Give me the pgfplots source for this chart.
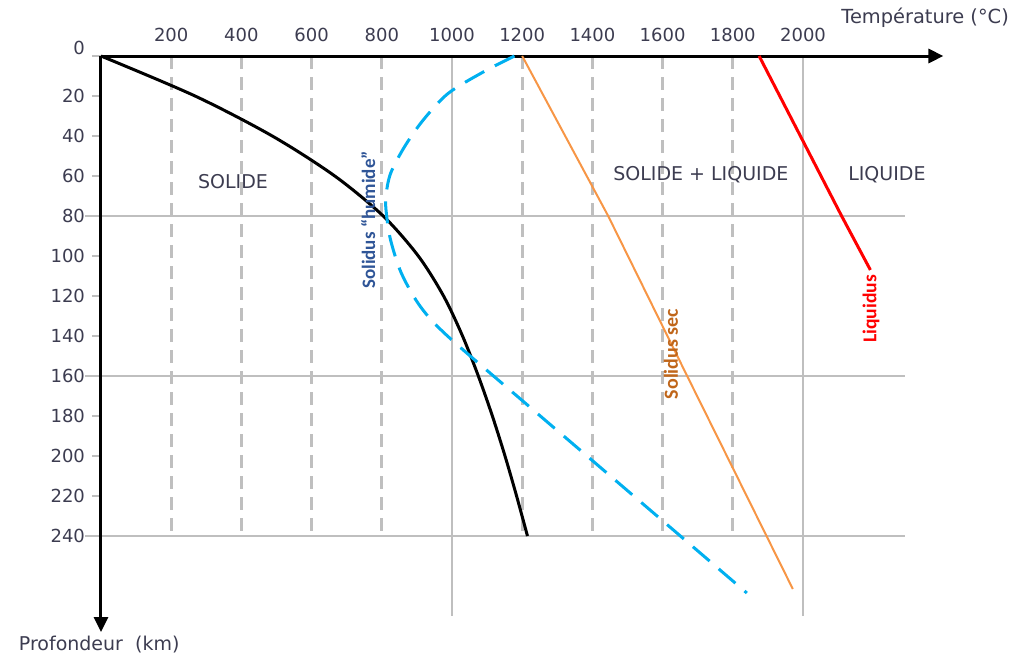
\documentclass[border=0pt]{standalone}
\usepackage{pgfplots}
\pgfplotsset{compat=1.18}
\usepackage{fontspec}
\setmainfont{DejaVu Sans}
\newfontfamily\calib{Carlito}
\usetikzlibrary{arrows.meta}
\definecolor{txt}{HTML}{3C3C50}
\definecolor{gridc}{HTML}{BFBFBF}
\definecolor{cyanb}{HTML}{00B0F0}
\definecolor{orng}{HTML}{F79646}
\definecolor{humid}{HTML}{2F5597}
\definecolor{secc}{HTML}{C0661A}
\begin{document}
\begin{tikzpicture}
\useasboundingbox (-50.5pt,-300.5pt) rectangle (458pt,28pt);
\begin{axis}[
 at={(0pt,0pt)}, anchor=origin,
 x=0.1755pt, y=1pt, y dir=reverse,
 xmin=0, xmax=2400, ymin=0, ymax=288,
 clip=false,
 axis line style={draw=none},
 xtick={200,400,...,2000},
 ytick={20,40,...,240},
 extra y ticks={0},
 extra y tick style={yticklabel style={yshift=4pt}, tick style={draw=none}},
 xtick style={draw=none},
 ytick style={draw=gridc, line width=0.8pt},
 ytick pos=left,
 xtick pos=right,
 xticklabel pos=right,
 tick align=outside, major tick length=4.5pt,
 ticklabel style={font=\fontsize{9}{10}\selectfont, text=txt},
 xticklabel style={yshift=-1pt},
 /pgf/number format/assume math mode=true,
 /pgf/number format/1000 sep={},
]
% grid lines
\addplot[gridc, line width=1.4pt, dash pattern=on 6.5pt off 4pt] coordinates {(200,0)(200,240)};
\addplot[gridc, line width=1.4pt, dash pattern=on 6.5pt off 4pt] coordinates {(400,0)(400,240)};
\addplot[gridc, line width=1.4pt, dash pattern=on 6.5pt off 4pt] coordinates {(600,0)(600,240)};
\addplot[gridc, line width=1.4pt, dash pattern=on 6.5pt off 4pt] coordinates {(800,0)(800,240)};
\addplot[gridc, line width=1.4pt, dash pattern=on 6.5pt off 4pt] coordinates {(1200,0)(1200,240)};
\addplot[gridc, line width=1.4pt, dash pattern=on 6.5pt off 4pt] coordinates {(1400,0)(1400,240)};
\addplot[gridc, line width=1.4pt, dash pattern=on 6.5pt off 4pt] coordinates {(1600,0)(1600,240)};
\addplot[gridc, line width=1.4pt, dash pattern=on 6.5pt off 4pt] coordinates {(1800,0)(1800,240)};
\addplot[gridc, line width=1pt] coordinates {(1000,0)(1000,280)};
\addplot[gridc, line width=1pt] coordinates {(2000,0)(2000,280)};
\addplot[gridc, line width=0.9pt] coordinates {(-45,80)(2290,80)};
\addplot[gridc, line width=0.9pt] coordinates {(-45,160)(2290,160)};
\addplot[gridc, line width=0.9pt] coordinates {(-45,240)(2290,240)};
% axes
\addplot[black, line width=1.5pt, -{Triangle[length=7.5pt,width=7pt]}] coordinates {(0,0)(2400,0)};
\addplot[black, line width=1.5pt, -{Triangle[length=7.5pt,width=7pt]}] coordinates {(0,0)(0,288)};
% curves
\addplot[black, line width=1.5pt, smooth] coordinates {
(0,0)(268,20)(488,40)(666,60)(804,80)(904,100)(976,120)(1030,140)(1075,160)(1115,180)(1151,200)(1184,220)(1215,240)};
\addplot[cyanb, line width=1.5pt, smooth, dash pattern=on 11pt off 6pt] coordinates {
(1178,0)(1090,7.9)(989,18.7)(918,32)(865,45.3)(825,58.7)(811.5,70.3)(813,78.7)(825,92)(856,108.7)(910,125.3)(989,140.3)(1215,174.5)(1418,205)(1654,240.5)(1840,268.5)};
\addplot[orng, line width=1pt] coordinates {(1200,0)(1445,80)(1670,160)(1971,266.5)};
\addplot[red, line width=1.5pt] coordinates {(1875,0)(2110,80)(2192,107)};
% texts
\node[font=\fontsize{9.5}{11}\selectfont, text=txt] at (axis cs:376,63) {SOLIDE};
\node[font=\fontsize{9.5}{11}\selectfont, text=txt] at (axis cs:1709,59.5) {SOLIDE + LIQUIDE};
\node[font=\fontsize{9.5}{11}\selectfont, text=txt] at (axis cs:2239,59.5) {LIQUIDE};
\node[rotate=90, font=\calib\bfseries\fontsize{9.5}{11}\selectfont, text=humid] at (axis cs:761,82) {Solidus “humide”};
\node[rotate=90, font=\calib\bfseries\fontsize{10}{11}\selectfont, text=secc] at (axis cs:1624,149) {Solidus sec};
\node[rotate=90, font=\calib\bfseries\fontsize{9.8}{11}\selectfont, text=red] at (axis cs:2194,126.5) {Liquidus};
\node[font=\fontsize{9.7}{11}\selectfont, text=txt] at (axis cs:2348,-19) {Température (°C)};
\node[anchor=west, font=\fontsize{9.5}{11}\selectfont, text=txt] at (axis cs:-254,294.5) {Profondeur\ \ (km)};
\end{axis}
\end{tikzpicture}
\end{document}
